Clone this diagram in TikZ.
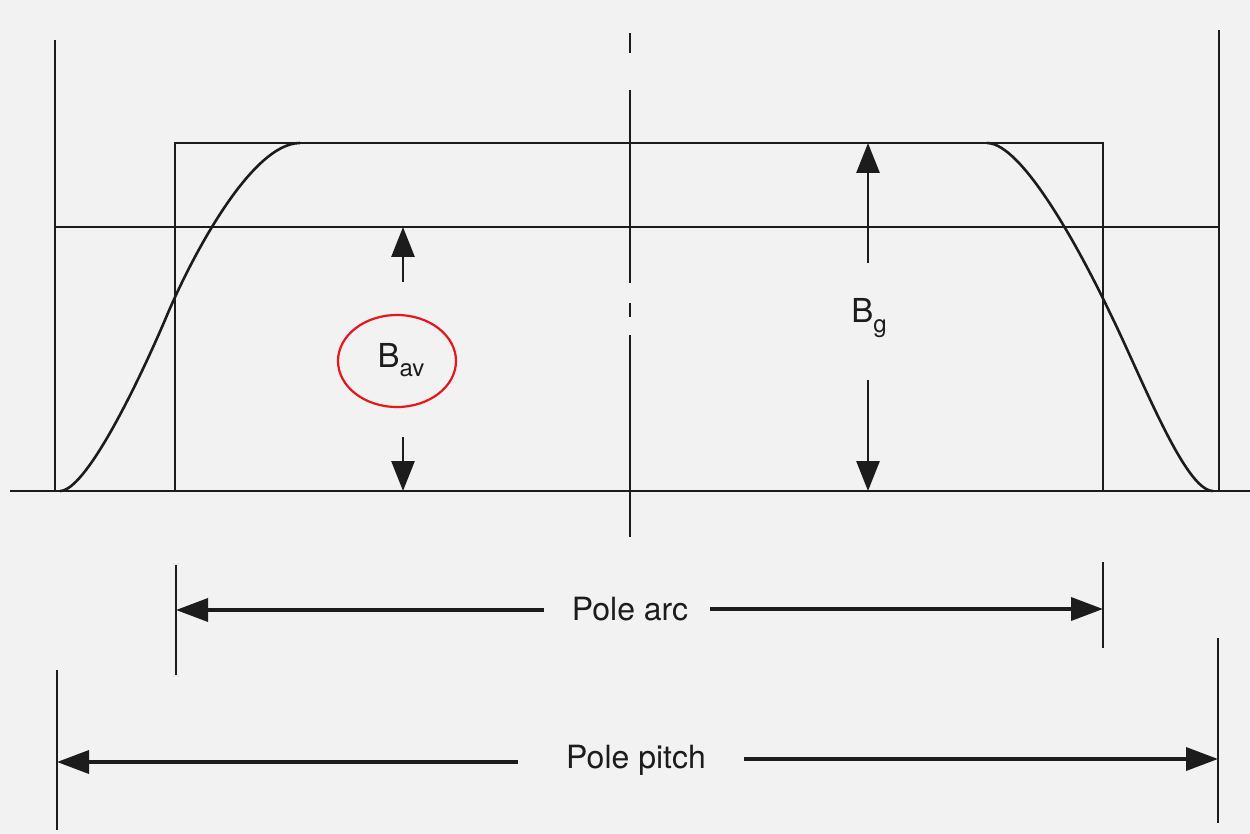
\documentclass[tikz,border=0pt]{standalone}
\usepackage{fontspec}
\setmainfont{TeX Gyre Heros}
\usetikzlibrary{arrows.meta,shapes.geometric}
\definecolor{paper}{HTML}{F2F2F2}
\definecolor{ink}{HTML}{1C1C1C}
\definecolor{ring}{HTML}{E5161C}
\begin{document}
\begin{tikzpicture}[x=1pt,y=-1pt,
  frame/.style={draw=ink,line width=2.6pt},
  dimline/.style={draw=ink,line width=3.6pt,-{Triangle[length=32pt,width=23pt]}},
  bdim/.style={draw=ink,line width=2.8pt,-{Triangle[length=30pt,width=23pt]}},
  lbl/.style={font=\fontsize{32}{38}\selectfont,text=ink,inner sep=0pt},
  blbl/.style={font=\fontsize{33}{38}\selectfont,text=ink,inner sep=0pt},
  ringstyle/.style={draw=ring,line width=2.2pt,ellipse,minimum width=118pt,minimum height=92pt}]
\fill[paper] (0,0) rectangle (1250,834);
\useasboundingbox (0,0) rectangle (1250,834);

% verticals
\draw[frame] (55,40) -- (55,491);
\draw[frame] (1219,30) -- (1219,491);
\draw[frame] (630,33) -- (630,53);
\draw[frame] (630,90) -- (630,283);
\draw[frame] (630,303) -- (630,317);
\draw[frame] (630,335) -- (630,537);
% pole rectangle
\draw[frame] (175,491) -- (175,143) -- (1103,143) -- (1103,491);
% average line and base line
\draw[frame] (55,227) -- (1219,227);
\draw[frame] (10,491) -- (1250,491);
% flux curves
\draw[frame] (60,491) .. controls (85,491) and (135,390) .. (165,320)
                      .. controls (192,255) and (252,143) .. (300,143);
\draw[frame] (987,143) .. controls (1022,143) and (1080,250) .. (1110,313)
                       .. controls (1142,378) and (1185,491) .. (1213,491);

% B_av
\node[blbl] (bav) at (401,360) {B\raisebox{-0.28em}{\fontsize{24}{24}\selectfont av}};
\node[ringstyle] (ring) at (397,361) {};
\coordinate (bavtop) at (403,227);
\coordinate (bavbot) at (403,491);
\draw[bdim] (403,282) -- (bavtop);
\draw[bdim] (403,437) -- (bavbot);

% B_g
\node[blbl] (bg) at (869,318) {B\raisebox{-0.28em}{\fontsize{24}{24}\selectfont g}};
\coordinate (bgtop) at (868,143);
\coordinate (bgbot) at (868,491);
\draw[bdim] (868,263) -- (bgtop);
\draw[bdim] (868,380) -- (bgbot);

% Pole arc
\draw[frame] (176,565) -- (176,675);
\draw[frame] (1103,562) -- (1103,648);
\node[lbl] (arc) at (630,609) {Pole arc};
\coordinate (arcl) at (176,610);
\coordinate (arcr) at (1103,609);
\draw[dimline] ([xshift=-28pt]arc.west |- arcl) -- (arcl);
\draw[dimline] ([xshift=22pt]arc.east |- arcr) -- (arcr);

% Pole pitch
\draw[frame] (57,670) -- (57,830);
\draw[frame] (1218,638) -- (1218,823);
\node[lbl] (pitch) at (636,760) {Pole pitch};
\coordinate (pitl) at (57,762);
\coordinate (pitr) at (1218,759);
\draw[dimline] ([xshift=-48pt]pitch.west |- pitl) -- (pitl);
\draw[dimline] ([xshift=38pt]pitch.east |- pitr) -- (pitr);
\end{tikzpicture}
\end{document}
